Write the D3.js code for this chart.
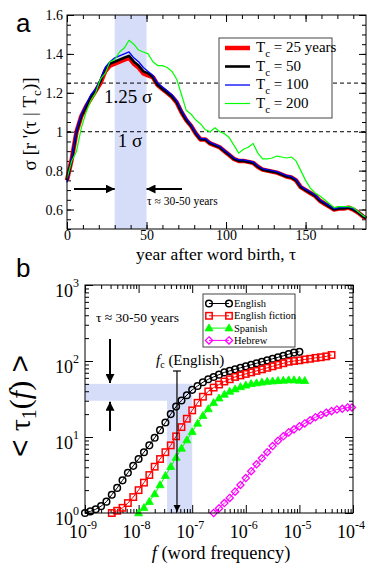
<!DOCTYPE html>
<html>
<head>
<meta charset="utf-8">
<script src="https://d3js.org/d3.v7.min.js"></script>
<style>
	body { margin: 0; background: #fff; }
	svg text { font-family: 'Liberation Serif', 'Times New Roman', serif; fill: #000; }
	.axis path { display: none; }
	.axis line { stroke: #000; stroke-width: 1px; }
	.panelLabel { font-family: 'Liberation Sans', Arial, sans-serif !important; font-size: 26px; }
</style>
</head>
<body>
<script>

//////////////////////////// panel a data ////////////////////////////
var tauA = [0,3,6,9,12,15,18,21,24,27,30,33,36,39,42,45,48,51,54,57,60,63,66,69,72,75,78,81,84,87,90,93,96,99,102,105,108,111,114,117,120,123,126,129,132,135,138,141,144,147,150,153,156,159,162,165,168,171,174,177,180,183,186,188];

var sigBlack = [0.75,0.86,1.00,1.08,1.13,1.18,1.21,1.26,1.32,1.35,1.36,1.37,1.38,1.39,1.36,1.34,1.31,1.30,1.28,1.24,1.22,1.20,1.18,1.15,1.10,1.06,1.03,0.99,0.96,0.96,0.94,0.93,0.92,0.90,0.88,0.86,0.85,0.85,0.845,0.84,0.82,0.805,0.80,0.795,0.79,0.78,0.77,0.765,0.75,0.715,0.70,0.685,0.67,0.645,0.63,0.615,0.60,0.605,0.605,0.61,0.60,0.585,0.565,0.555];
var sigRed = [0.75,0.86,1.00,1.08,1.13,1.17,1.21,1.25,1.31,1.34,1.35,1.36,1.37,1.38,1.35,1.33,1.30,1.29,1.28,1.24,1.22,1.20,1.18,1.15,1.10,1.06,1.03,0.99,0.96,0.96,0.94,0.93,0.92,0.90,0.88,0.86,0.85,0.85,0.845,0.84,0.82,0.805,0.80,0.795,0.79,0.78,0.77,0.765,0.75,0.715,0.70,0.685,0.67,0.645,0.63,0.615,0.60,0.605,0.605,0.61,0.60,0.585,0.565,0.555];
var sigBlue = [0.74,0.87,1.01,1.09,1.14,1.19,1.22,1.27,1.33,1.36,1.38,1.39,1.40,1.41,1.38,1.36,1.33,1.31,1.29,1.25,1.23,1.21,1.19,1.16,1.11,1.07,1.035,0.995,0.965,0.965,0.945,0.935,0.925,0.905,0.885,0.865,0.855,0.855,0.85,0.845,0.825,0.81,0.805,0.80,0.795,0.785,0.775,0.77,0.755,0.72,0.705,0.69,0.675,0.65,0.635,0.62,0.605,0.61,0.61,0.615,0.605,0.59,0.57,0.56];
var sigGreen = [0.76,0.85,0.90,1.02,1.10,1.16,1.20,1.27,1.30,1.36,1.37,1.41,1.43,1.47,1.45,1.42,1.41,1.40,1.36,1.34,1.34,1.33,1.31,1.27,1.19,1.11,1.09,1.06,1.04,1.01,1.00,1.02,1.00,0.99,0.97,0.93,0.89,0.91,0.92,0.94,0.89,0.86,0.86,0.865,0.875,0.87,0.865,0.87,0.85,0.80,0.75,0.71,0.685,0.67,0.65,0.63,0.61,0.615,0.615,0.615,0.61,0.59,0.57,0.56];

var tcLabels = ["25 years", "50", "100", "200"];
var xTicksA = [0, 50, 100, 150];
var yTicksA = [0.6, 0.8, 1, 1.2, 1.4, 1.6];
var sigmaLevels = [1.25, 1];
var bandA = [30, 50];

//////////////////////////// panel b data ////////////////////////////
var logFEng = [-9.0,-8.9,-8.8,-8.7,-8.6,-8.5,-8.4,-8.3,-8.2,-8.1,-8.0,-7.9,-7.8,-7.7,-7.6,-7.5,-7.4,-7.3,-7.2,-7.1,-7.0,-6.9,-6.8,-6.7,-6.6,-6.5,-6.4,-6.3,-6.2,-6.1,-6.0,-5.9,-5.8,-5.7,-5.6,-5.5,-5.4,-5.3,-5.2,-5.1,-5.0];
var tauEng = [1.0,1.05,1.12,1.23,1.41,1.74,2.14,2.69,3.39,4.17,5.13,6.31,7.76,9.77,12.3,15.5,20.0,25.1,30.2,35.5,41.7,46.8,52.5,57.5,61.7,66.1,70.8,74.1,77.6,81.3,85.1,89.1,93.3,97.7,102,107,112,117,123,129,132];

var logFFic = [-8.5,-8.4,-8.3,-8.2,-8.1,-8.0,-7.9,-7.8,-7.7,-7.6,-7.5,-7.4,-7.3,-7.2,-7.1,-7.0,-6.9,-6.8,-6.7,-6.6,-6.5,-6.4,-6.3,-6.2,-6.1,-6.0,-5.9,-5.8,-5.7,-5.6,-5.5,-5.4,-5.3,-5.2,-5.1,-5.0,-4.9,-4.8,-4.7,-4.6,-4.5,-4.4];
var tauFic = [1.0,1.07,1.17,1.35,1.62,2.0,2.51,3.16,4.07,5.13,6.31,7.76,10.2,13.5,17.4,22.4,28.2,33.9,39.8,44.7,49.0,53.7,57.5,61.7,64.6,67.6,70.8,74.1,77.6,81.3,85.1,89.1,93.3,97.7,100,102,105,107,110,112,115,120];

var logFSpa = [-8.0,-7.9,-7.8,-7.7,-7.6,-7.5,-7.4,-7.3,-7.2,-7.1,-7.0,-6.9,-6.8,-6.7,-6.6,-6.5,-6.4,-6.3,-6.2,-6.1,-6.0,-5.9,-5.8,-5.7,-5.6,-5.5,-5.4,-5.3,-5.2,-5.1,-5.0,-4.9];
var tauSpa = [1.0,1.17,1.41,1.78,2.34,3.09,4.07,5.37,7.08,9.12,11.7,15.1,19.1,23.4,28.2,32.4,36.3,39.8,42.7,45.7,47.9,50.1,51.3,52.5,53.7,54.3,55.0,55.6,56.2,56.2,55.6,55.0];

var logFHeb = [-6.6,-6.5,-6.4,-6.3,-6.2,-6.1,-6.0,-5.9,-5.8,-5.7,-5.6,-5.5,-5.4,-5.3,-5.2,-5.1,-5.0,-4.9,-4.8,-4.7,-4.6,-4.5,-4.4,-4.3,-4.2,-4.1,-4.02];
var tauHeb = [1.0,1.15,1.35,1.58,1.91,2.34,2.88,3.55,4.37,5.25,6.31,7.59,8.91,10.2,11.5,12.6,13.8,15.1,16.6,18.2,19.5,20.9,21.9,23.0,23.5,24.5,24.5];

var langNames = ["English", "English fiction", "Spanish", "Hebrew"];
var xExpB = [-9, -8, -7, -6, -5, -4];
var yExpB = [0, 1, 2, 3];
var bandTauB = [30, 50];
var bandFB = [3.4e-8, 1e-7];
var fcEnglish = 5.2e-8;

//////////////////////////// svg ////////////////////////////
var svg = d3.select("body").append("svg")
	.attr("width", 374)
	.attr("height", 578);

var defs = svg.append("defs");
defs.append("marker")
	.attr("id", "head")
	.attr("viewBox", "0 0 10 10")
	.attr("refX", 10).attr("refY", 5)
	.attr("markerWidth", 4.5).attr("markerHeight", 4.5)
	.attr("markerUnits", "strokeWidth")
	.attr("orient", "auto")
	.append("path").attr("d", "M0,0L10,5L0,10z").attr("fill", "#000");
defs.append("marker")
	.attr("id", "headSmall")
	.attr("viewBox", "0 0 10 10")
	.attr("refX", 10).attr("refY", 5)
	.attr("markerWidth", 6).attr("markerHeight", 6)
	.attr("markerUnits", "strokeWidth")
	.attr("orient", "auto")
	.append("path").attr("d", "M0,0L10,5L0,10z").attr("fill", "#000");

//////////////////////////// panel a ////////////////////////////
var xA = d3.scaleLinear().domain([0, 188]).range([67, 366]);
var yA = d3.scaleLinear().domain([0.5, 1.6]).range([229, 15]);
var gA = svg.append("g");

// shaded band
gA.append("rect")
	.attr("x", xA(bandA[0])).attr("y", yA(1.6))
	.attr("width", xA(bandA[1]) - xA(bandA[0]))
	.attr("height", yA(0.5) - yA(1.6))
	.attr("fill", "#d6ddf8");

// dashed sigma lines
gA.selectAll(".sigLine")
	.data(sigmaLevels)
	.enter().append("line")
	.attr("x1", xA(0)).attr("x2", xA(188))
	.attr("y1", function(d) { return yA(d); })
	.attr("y2", function(d) { return yA(d); })
	.attr("stroke", "#000").attr("stroke-width", 1)
	.attr("stroke-dasharray", "4,3");

// axes, ticks inward
function addAxis(g, axis, tr) {
	g.append("g").attr("class", "axis").attr("transform", tr).call(axis);
}
addAxis(gA, d3.axisBottom(xA).tickValues(xTicksA).tickSize(-7).tickPadding(1).tickFormat(d3.format("d")), "translate(0," + yA(0.5) + ")");
addAxis(gA, d3.axisBottom(xA).tickValues(xA.ticks(19)).tickSize(-4).tickFormat(""), "translate(0," + yA(0.5) + ")");
addAxis(gA, d3.axisTop(xA).tickValues(xTicksA).tickSize(-7).tickFormat(""), "translate(0," + yA(1.6) + ")");
addAxis(gA, d3.axisTop(xA).tickValues(xA.ticks(19)).tickSize(-4).tickFormat(""), "translate(0," + yA(1.6) + ")");
addAxis(gA, d3.axisLeft(yA).tickValues(yTicksA).tickSize(-7).tickPadding(4).tickFormat(function(d) { return d3.format("")(d); }), "translate(" + xA(0) + ",0)");
addAxis(gA, d3.axisLeft(yA).tickValues(yA.ticks(22)).tickSize(-4).tickFormat(""), "translate(" + xA(0) + ",0)");
addAxis(gA, d3.axisRight(yA).tickValues(yTicksA).tickSize(-7).tickFormat(""), "translate(" + xA(188) + ",0)");
addAxis(gA, d3.axisRight(yA).tickValues(yA.ticks(22)).tickSize(-4).tickFormat(""), "translate(" + xA(188) + ",0)");
gA.selectAll(".axis text").style("font-size", "14px").style("font-family", "'Liberation Serif', serif");

// curves
var lineA = d3.line()
	.x(function(d, i) { return xA(tauA[i]); })
	.y(function(d) { return yA(d); });

var seriesA = [
	{ vals: sigRed, color: "#ff0000", w: 4.5 },
	{ vals: sigBlack, color: "#000000", w: 2.6 },
	{ vals: sigBlue, color: "#0000ff", w: 1.3 },
	{ vals: sigGreen, color: "#00ff00", w: 1.2 }
];
gA.selectAll(".curveA")
	.data(seriesA)
	.enter().append("path")
	.attr("d", function(d) { return lineA(d.vals); })
	.attr("fill", "none")
	.attr("stroke", function(d) { return d.color; })
	.attr("stroke-width", function(d) { return d.w; })
	.attr("stroke-linejoin", "round");

// frame
gA.append("rect")
	.attr("x", xA(0)).attr("y", yA(1.6))
	.attr("width", xA(188) - xA(0)).attr("height", yA(0.5) - yA(1.6))
	.attr("fill", "none").attr("stroke", "#000").attr("stroke-width", 1);

// sigma labels
gA.append("text").attr("x", 128).attr("y", 103).attr("text-anchor", "middle").style("font-size", "19px").text("1.25 σ");
gA.append("text").attr("x", 130).attr("y", 147).attr("text-anchor", "middle").style("font-size", "19px").text("1 σ");

// arrows
gA.append("line").attr("x1", 74).attr("x2", xA(bandA[0])).attr("y1", 189).attr("y2", 189)
	.attr("stroke", "#000").attr("stroke-width", 2).attr("marker-end", "url(#head)");
gA.append("line").attr("x1", 182).attr("x2", xA(bandA[1])).attr("y1", 189).attr("y2", 189)
	.attr("stroke", "#000").attr("stroke-width", 2).attr("marker-end", "url(#head)");
gA.append("text").attr("x", 147).attr("y", 205).style("font-size", "11.5px").text("τ ≈ 30-50 years");

// legend a
var legA = gA.append("g");
legA.append("rect").attr("x", 219).attr("y", 38).attr("width", 113).attr("height", 80)
	.attr("fill", "#fff").attr("stroke", "#444").attr("stroke-width", 1);
legA.selectAll(".legRow")
	.data(seriesA)
	.enter().append("line")
	.attr("x1", 225).attr("x2", 250)
	.attr("y1", function(d, i) { return 48 + i * 18.5; })
	.attr("y2", function(d, i) { return 48 + i * 18.5; })
	.attr("stroke", function(d) { return d.color; })
	.attr("stroke-width", function(d) { return d.w; });
legA.selectAll(".legText")
	.data(tcLabels)
	.enter().append("text")
	.attr("x", 256)
	.attr("y", function(d, i) { return 52 + i * 18.5; })
	.style("font-size", "15px")
	.each(function(d) {
		var t = d3.select(this);
		t.append("tspan").text("T");
		t.append("tspan").attr("dy", 5).style("font-size", "11px").text("c");
		t.append("tspan").attr("dy", -5).text(" = " + d);
	});

// axis titles a
gA.append("text").attr("x", 216).attr("y", 260).attr("text-anchor", "middle")
	.style("font-size", "17.5px").text("year after word birth, τ");
var ylabA = gA.append("text")
	.attr("transform", "translate(36,124) rotate(-90)")
	.attr("text-anchor", "middle")
	.style("font-size", "19px");
ylabA.append("tspan").text("σ [r '(τ | T");
ylabA.append("tspan").attr("dy", 5).style("font-size", "13px").text("c");
ylabA.append("tspan").attr("dy", -5).text(")]");

svg.append("text").attr("class", "panelLabel").attr("x", 16).attr("y", 32).text("a");

//////////////////////////// panel b ////////////////////////////
var xB = d3.scaleLog().domain([1e-9, 1e-4]).range([85, 353]);
var yB = d3.scaleLog().domain([1, 1000]).range([513, 285]);
var gB = svg.append("g");

// shaded L band
gB.append("rect")
	.attr("x", xB(1e-9)).attr("y", yB(bandTauB[1]))
	.attr("width", xB(bandFB[1]) - xB(1e-9))
	.attr("height", yB(bandTauB[0]) - yB(bandTauB[1]))
	.attr("fill", "#d6ddf8");
gB.append("rect")
	.attr("x", xB(bandFB[0])).attr("y", yB(bandTauB[1]))
	.attr("width", xB(bandFB[1]) - xB(bandFB[0]))
	.attr("height", yB(1) - yB(bandTauB[1]))
	.attr("fill", "#d6ddf8");

// log ticks
var majX = xExpB.map(function(e) { return Math.pow(10, e); });
var majY = yExpB.map(function(e) { return Math.pow(10, e); });
var minX = xB.ticks().filter(function(v) { return majX.indexOf(v) < 0; });
var minY = yB.ticks().filter(function(v) { return majY.indexOf(v) < 0; });
addAxis(gB, d3.axisBottom(xB).tickValues(majX).tickSize(-8).tickFormat(""), "translate(0," + yB(1) + ")");
addAxis(gB, d3.axisBottom(xB).tickValues(minX).tickSize(-4).tickFormat(""), "translate(0," + yB(1) + ")");
addAxis(gB, d3.axisTop(xB).tickValues(majX).tickSize(-8).tickFormat(""), "translate(0," + yB(1000) + ")");
addAxis(gB, d3.axisTop(xB).tickValues(minX).tickSize(-4).tickFormat(""), "translate(0," + yB(1000) + ")");
addAxis(gB, d3.axisLeft(yB).tickValues(majY).tickSize(-8).tickFormat(""), "translate(" + xB(1e-9) + ",0)");
addAxis(gB, d3.axisLeft(yB).tickValues(minY).tickSize(-4).tickFormat(""), "translate(" + xB(1e-9) + ",0)");
addAxis(gB, d3.axisRight(yB).tickValues(majY).tickSize(-8).tickFormat(""), "translate(" + xB(1e-4) + ",0)");
addAxis(gB, d3.axisRight(yB).tickValues(minY).tickSize(-4).tickFormat(""), "translate(" + xB(1e-4) + ",0)");

// tick labels with superscripts
gB.selectAll(".xLab")
	.data(xExpB)
	.enter().append("text")
	.attr("x", function(d) { return xB(Math.pow(10, d)) - 2; })
	.attr("y", 538)
	.attr("text-anchor", "middle")
	.style("font-size", "18px")
	.each(function(d) {
		var t = d3.select(this);
		t.append("tspan").text("10");
		t.append("tspan").attr("dy", -9).style("font-size", "12px").text(d);
	});
gB.selectAll(".yLab")
	.data(yExpB)
	.enter().append("text")
	.attr("x", 79)
	.attr("y", function(d) { return yB(Math.pow(10, d)) + 12; })
	.attr("text-anchor", "end")
	.style("font-size", "18px")
	.each(function(d) {
		var t = d3.select(this);
		t.append("tspan").text("10");
		t.append("tspan").attr("dy", -10).style("font-size", "12px").text(d);
	});

// data series
var seriesB = [
	{ f: logFEng, t: tauEng, color: "#000000", shape: "circle" },
	{ f: logFFic, t: tauFic, color: "#ff0000", shape: "square" },
	{ f: logFSpa, t: tauSpa, color: "#00ff00", shape: "triangle" },
	{ f: logFHeb, t: tauHeb, color: "#ff00ff", shape: "diamond" }
];
var symbolPath = {
	circle: function(g) { g.append("circle").attr("r", 3.3).attr("fill", "none").attr("stroke-width", 1.5); },
	square: function(g) { g.append("rect").attr("x", -3.2).attr("y", -3.2).attr("width", 6.4).attr("height", 6.4).attr("fill", "none").attr("stroke-width", 1.5); },
	triangle: function(g) { g.append("path").attr("d", "M0,-4.2L4,2.8L-4,2.8Z").attr("stroke-width", 0.8); },
	diamond: function(g) { g.append("path").attr("d", "M0,-3.6L3.6,0L0,3.6L-3.6,0Z").attr("fill", "none").attr("stroke-width", 1.3); }
};
var lineB = d3.line();

function drawSeries(g, s, pts) {
	g.append("path")
		.attr("d", lineB(pts))
		.attr("fill", "none").attr("stroke", s.color).attr("stroke-width", 1);
	g.selectAll(".pt")
		.data(pts)
		.enter().append("g")
		.attr("transform", function(d) { return "translate(" + d[0] + "," + d[1] + ")"; })
		.each(function() {
			var m = d3.select(this).attr("stroke", s.color).attr("fill", s.color);
			symbolPath[s.shape](m);
		});
}

seriesB.forEach(function(s) {
	var pts = s.f.map(function(lf, i) { return [xB(Math.pow(10, lf)), yB(s.t[i])]; });
	drawSeries(gB.append("g"), s, pts);
});

// f_c marker line
var xFc = xB(fcEnglish);
gB.append("line").attr("x1", xFc).attr("x2", xFc).attr("y1", 371).attr("y2", yB(1) - 1)
	.attr("stroke", "#000").attr("stroke-width", 1.2).attr("marker-end", "url(#headSmall)");
gB.append("line").attr("x1", xFc - 4).attr("x2", xFc + 4).attr("y1", 371).attr("y2", 371)
	.attr("stroke", "#000").attr("stroke-width", 1.2);
var fcLab = gB.append("text").attr("x", 156).attr("y", 365).style("font-size", "15px");
fcLab.append("tspan").style("font-style", "italic").text("f");
fcLab.append("tspan").attr("dy", 3).style("font-size", "10px").text("c");
fcLab.append("tspan").attr("dy", -3).text(" (English)");

// tau arrows
gB.append("line").attr("x1", 110).attr("x2", 110).attr("y1", 339).attr("y2", yB(bandTauB[1]) - 1)
	.attr("stroke", "#000").attr("stroke-width", 2).attr("marker-end", "url(#head)");
gB.append("line").attr("x1", 110).attr("x2", 110).attr("y1", 431).attr("y2", yB(bandTauB[0]) + 1)
	.attr("stroke", "#000").attr("stroke-width", 2).attr("marker-end", "url(#head)");
gB.append("text").attr("x", 96).attr("y", 322).style("font-size", "13.5px").text("τ ≈ 30-50 years");

// frame
gB.append("rect")
	.attr("x", xB(1e-9)).attr("y", yB(1000))
	.attr("width", xB(1e-4) - xB(1e-9)).attr("height", yB(1) - yB(1000))
	.attr("fill", "none").attr("stroke", "#000").attr("stroke-width", 1);

// legend b
var legB = gB.append("g");
legB.append("rect").attr("x", 203).attr("y", 294).attr("width", 92).attr("height", 53)
	.attr("fill", "#fff").attr("stroke", "#444").attr("stroke-width", 1);
seriesB.forEach(function(s, i) {
	var yy = 303.5 + i * 12.3;
	drawSeries(legB.append("g"), s, [[209, yy], [229, yy]]);
	legB.append("text").attr("x", 234).attr("y", yy + 3.5).style("font-size", "10.5px").text(langNames[i]);
});

// axis titles b
var xlabB = gB.append("text").attr("x", 221).attr("y", 559).attr("text-anchor", "middle").style("font-size", "18.5px");
xlabB.append("tspan").style("font-style", "italic").text("f");
xlabB.append("tspan").text("  (word frequency)");

var ylabB = gB.append("text")
	.attr("transform", "translate(30,406) rotate(-90)")
	.attr("text-anchor", "middle")
	.style("font-size", "30px");
ylabB.append("tspan").style("font-family", "'Liberation Sans', sans-serif").text("< ");
ylabB.append("tspan").text("τ");
ylabB.append("tspan").attr("dy", 6).style("font-size", "20px").text("1");
ylabB.append("tspan").attr("dy", -6).text("(");
ylabB.append("tspan").style("font-style", "italic").text("f");
ylabB.append("tspan").text(")");
ylabB.append("tspan").style("font-family", "'Liberation Sans', sans-serif").text(" >");

svg.append("text").attr("class", "panelLabel").attr("x", 16).attr("y", 277).text("b");

</script>
</body>
</html>
